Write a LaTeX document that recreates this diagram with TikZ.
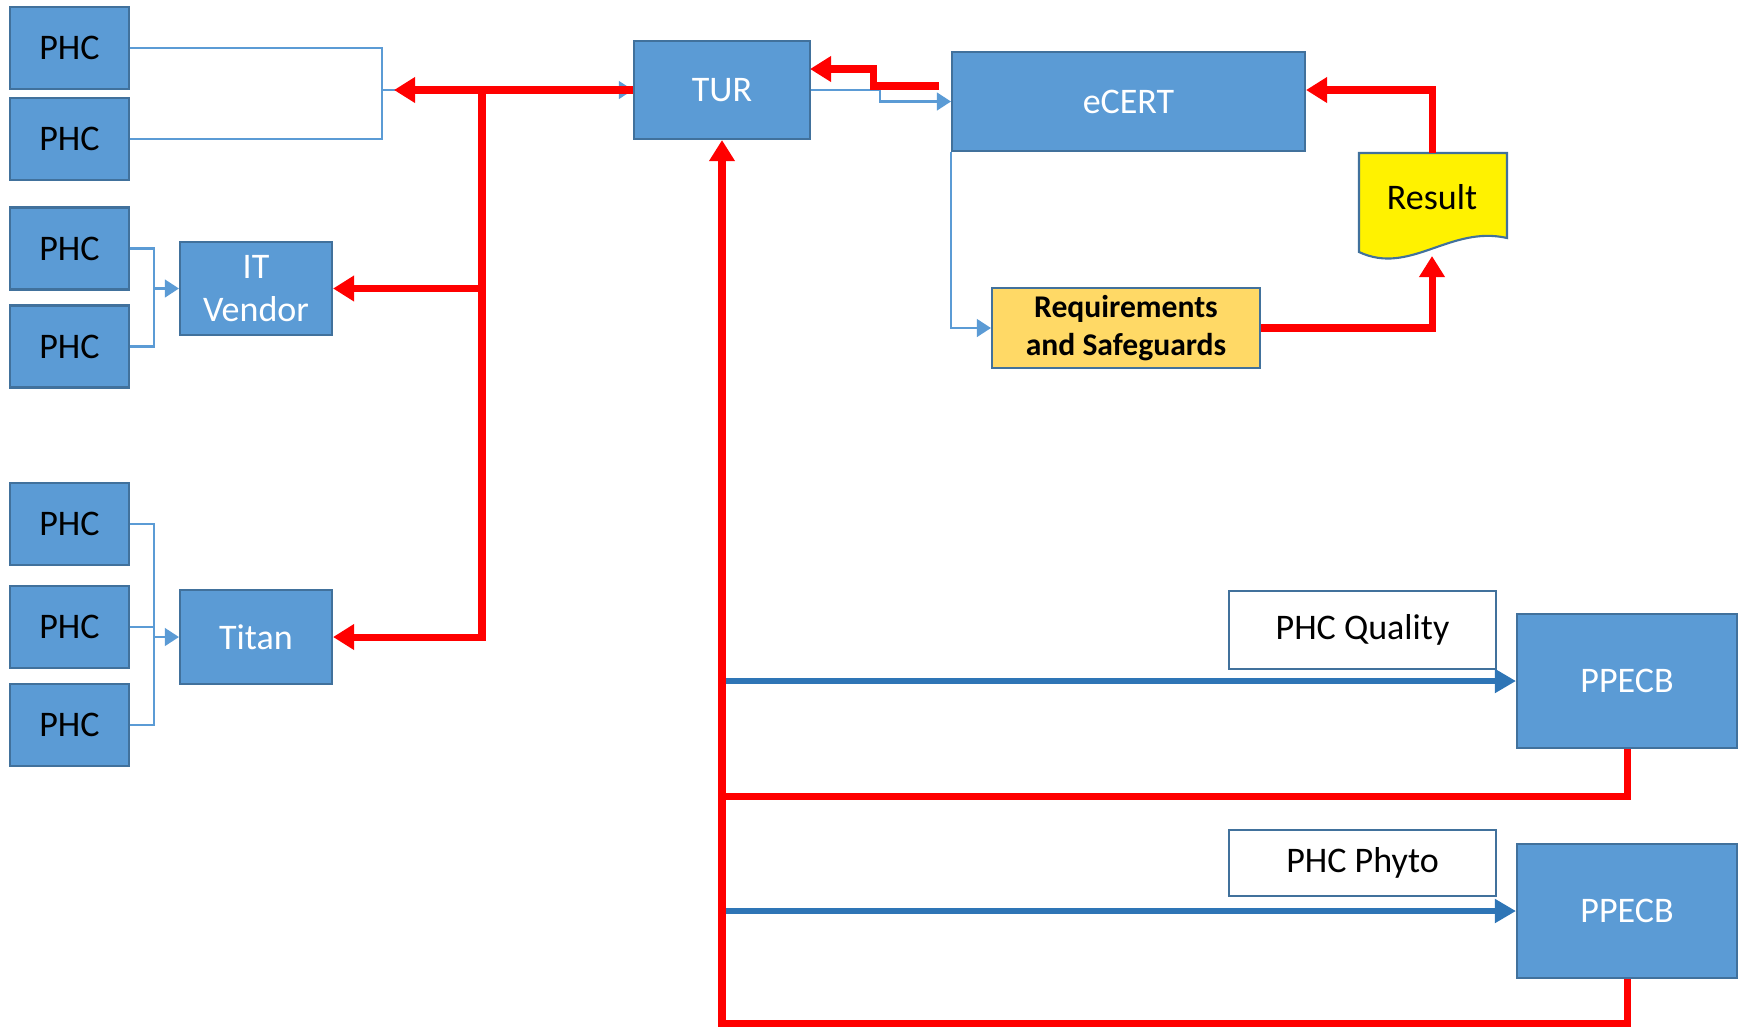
\documentclass[tikz,border=0pt]{standalone}
\usepackage{fontspec}
\setmainfont{Carlito}
\usetikzlibrary{arrows.meta}
\definecolor{boxblue}{HTML}{5B9BD5}
\definecolor{boxline}{HTML}{41719C}
\definecolor{flowblue}{HTML}{2E75B6}
\definecolor{reqgold}{HTML}{FFD966}
\tikzset{
  box/.style = {draw = boxline, line width = 1.2pt, fill = boxblue, inner sep = 0pt, align = center, font = \fontsize{20.5}{24.6}\selectfont},
  phcbox/.style = {box, minimum width = 2.38cm, minimum height = 1.64cm, text = black},
  bluebox/.style = {box, text = white},
  labelbox/.style = {box, fill = white, text = black, minimum width = 5.34cm},
  feed/.style = {draw = boxblue, line width = 1.4pt},
  feedarrow/.style = {feed, -{Triangle[length = 8pt, width = 10pt]}},
  redline/.style = {draw = red, line width = 4pt},
  redarrow/.style = {redline, -{Triangle[length = 12pt, width = 14pt]}},
  bigarrow/.style = {draw = flowblue, line width = 3.8pt, -{Triangle[length = 12pt, width = 13pt]}}
}
\begin{document}
\begin{tikzpicture}[x = 0.02cm, y = -0.02cm]
\useasboundingbox (0,0) rectangle (1743,1029);
\node[phcbox] (phc1) at (69.5,48) {PHC};
\node[phcbox] (phc2) at (69.5,139) {PHC};
\node[phcbox] (phc3) at (69.5,248.5) {PHC};
\node[phcbox] (phc4) at (69.5,346.5) {PHC};
\node[phcbox] (phc5) at (69.5,524) {PHC};
\node[phcbox] (phc6) at (69.5,627) {PHC};
\node[phcbox] (phc7) at (69.5,725) {PHC};
\node[bluebox, minimum width = 3.04cm, minimum height = 1.86cm] (vendor) at (256,288.5) {IT\\Vendor};
\node[bluebox, minimum width = 3.04cm, minimum height = 1.88cm] (titan) at (256,637) {Titan};
\node[bluebox, minimum width = 3.52cm, minimum height = 1.96cm] (tur) at (722,90) {TUR};
\node[bluebox, minimum width = 7.06cm, minimum height = 1.98cm] (ecert) at (1128.5,101.5) {eCERT};
\node[box, fill = reqgold, minimum width = 5.36cm, minimum height = 1.6cm, font = \fontsize{18}{21.8}\selectfont\bfseries] (req) at (1126,328) {Requirements\\and Safeguards};
\node[labelbox, minimum height = 1.56cm] (quality) at (1362.5,630) {PHC Quality};
\node[labelbox, minimum height = 1.32cm] (phyto) at (1362.5,863) {PHC Phyto};
\node[bluebox, minimum width = 4.4cm, minimum height = 2.68cm] (ppecb1) at (1627,681) {PPECB};
\node[bluebox, minimum width = 4.4cm, minimum height = 2.68cm] (ppecb2) at (1627,911) {PPECB};
\draw[draw = boxline, line width = 1.2pt, fill = yellow] (1359,153) -- (1507,153) -- (1507,238) .. controls (1450,225) and (1410,276) .. (1359,252) -- cycle;
\node[font = \fontsize{20.5}{24.6}\selectfont] (result) at (1432,197) {Result};
\coordinate (join1) at (382,90);
\coordinate (join2) at (154,288.5);
\coordinate (join3) at (154,637);
\coordinate (phcin) at (394,90);
\coordinate (trunk) at (482,90);
\coordinate (bend) at (880,101.5);
\coordinate (back) at (939,86);
\coordinate (kink) at (873,69);
\coordinate (turin) at (810,69);
\coordinate (restop) at (1432,153);
\coordinate (resbot) at (1432,256);
\coordinate (loop1) at (722,796);
\coordinate (loop2) at (722,1023);
\draw[feed] (phc1.east) -| (join1) |- (phc2.east);
\draw[feedarrow] (join1) -- (tur.west);
\draw[feed] (phc3.east) -| (join2) |- (phc4.east);
\draw[feedarrow] (join2) -- (vendor.west);
\draw[feed] (phc5.east) -| (join3) |- (phc7.east);
\draw[feed] (phc6.east) -- (phc6.east -| join3);
\draw[feedarrow] (join3) -- (titan.west);
\draw[feedarrow] (tur.east) -| (bend) -- (ecert.west);
\draw[feedarrow] (ecert.south west) |- (req.west);
\draw[bigarrow] (loop1 |- ppecb1.west) -- (ppecb1.west);
\draw[bigarrow] (loop1 |- ppecb2.west) -- (ppecb2.west);
\draw[redarrow] (tur.west) -- (phcin);
\draw[redarrow] (trunk) |- (vendor.east);
\draw[redarrow] (trunk) |- (titan.east);
\draw[redarrow] (back) -| (kink) -- (turin);
\draw[redarrow] (restop) |- (ecert.east |- tur.center);
\draw[redarrow] (req.east) -| (resbot);
\draw[redline] (ppecb1.south) |- (loop1);
\draw[redarrow] (ppecb2.south) |- (loop2) -- (tur.south);
\end{tikzpicture}
\end{document}
